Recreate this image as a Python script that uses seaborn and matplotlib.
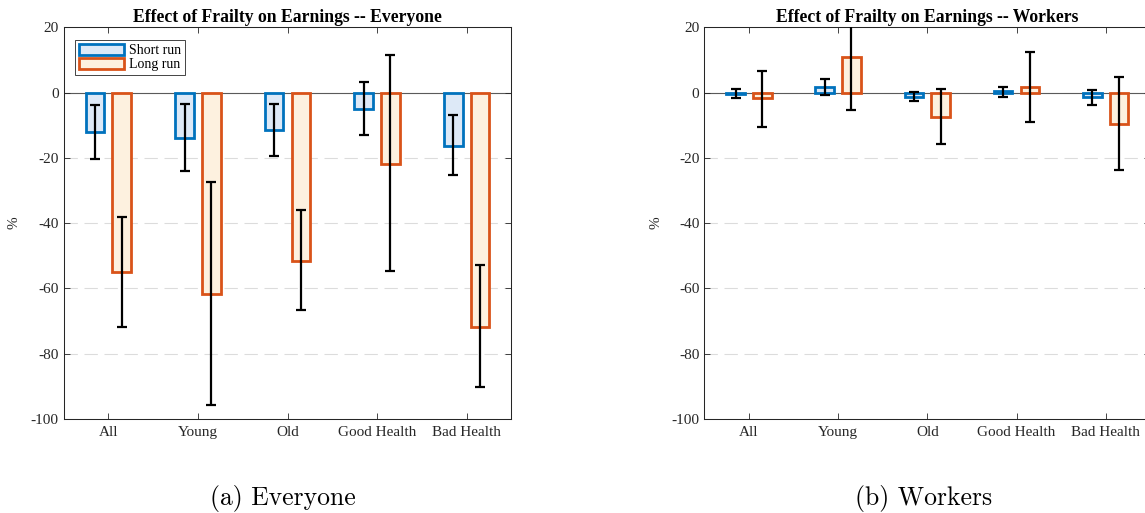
import numpy as np
import pandas as pd
import seaborn as sns
import matplotlib as mpl
import matplotlib.pyplot as plt

mpl.use('Agg')

# ---------------- data ----------------
groups = ['All', 'Young', 'Old', 'Good Health', 'Bad Health']
runs = ['Short run', 'Long run']

every_short    = [-12.1, -13.8, -11.6, -5.0, -16.3]
every_short_lo = [-20.2, -24.1, -19.4, -13.1, -25.4]
every_short_hi = [-3.7, -3.5, -3.6, 3.3, -6.9]
every_long     = [-55.0, -61.8, -51.6, -21.8, -71.7]
every_long_lo  = [-71.9, -95.6, -66.7, -54.8, -90.2]
every_long_hi  = [-38.0, -27.5, -36.1, 11.5, -52.8]

workers_short    = [-0.5, 1.8, -1.4, 0.4, -1.5]
workers_short_lo = [-1.6, -0.8, -2.6, -1.4, -3.7]
workers_short_hi = [1.0, 4.1, 0.2, 1.8, 0.8]
workers_long     = [-1.8, 11.0, -7.5, 1.6, -9.6]
workers_long_lo  = [-10.4, -5.3, -15.8, -9.1, -23.7]
workers_long_hi  = [6.6, 22.0, 1.2, 12.3, 4.8]

yticks = [-100, -80, -60, -40, -20, 0, 20]

# ---------------- style ----------------
plt.rcParams['font.family'] = ['Liberation Serif', 'DejaVu Serif']
plt.rcParams['axes.unicode_minus'] = False
DARK = '#262626'
face_cols = ['#dde9f7', '#fdf1df']
edge_cols = ['#0072bd', '#d95319']


def make_df(short, long_):
    return pd.DataFrame({
        'group': groups * 2,
        'run': [runs[0]] * len(groups) + [runs[1]] * len(groups),
        'value': list(short) + list(long_),
    })


def draw_panel(ax, df, lows, highs, title):
    # 网格 + 基线
    for y in yticks:
        ax.axhline(y, color='#dcdcdc', lw=0.8, ls=(0, (12, 6)), zorder=0)
    ax.axhline(0, color='#5a5a5a', lw=0.8, zorder=1.5)

    sns.barplot(data=df, x='group', y='value', hue='run', order=groups,
                hue_order=runs, palette=face_cols, saturation=1,
                width=0.6, gap=0.3, errorbar=None, linewidth=2,
                legend=False, ax=ax, zorder=2)

    bars = list(ax.containers)  # 先拷贝，errorbar 会往 containers 里加东西
    for i, cont in enumerate(bars):
        for p in cont:
            p.set_edgecolor(edge_cols[i])
            p.set_linewidth(2)
        xs = [p.get_x() + p.get_width() / 2 for p in cont]
        vals = np.asarray(cont.datavalues)
        lo = np.asarray(lows[i])
        hi = np.asarray(highs[i])
        ax.errorbar(xs, vals, yerr=[vals - lo, hi - vals], fmt='none',
                    ecolor='black', elinewidth=1.6, capsize=3.6,
                    capthick=1.6, zorder=4)

    ax.set_xlim(-0.5, len(groups) - 0.5)
    ax.set_ylim(-100, 20)
    ax.set_yticks(yticks)
    ax.set_yticklabels([str(t) for t in yticks])
    ax.set_xlabel('')
    ax.set_ylabel('%', fontsize=11, color=DARK)
    ax.set_title(title, fontsize=12.7, fontweight='bold', pad=4)
    ax.tick_params(direction='in', top=True, right=True, length=4,
                   width=0.6, colors=DARK, labelsize=11)
    ax.tick_params(axis='x', pad=5)
    for s in ax.spines.values():
        s.set_color(DARK)
        s.set_linewidth(0.75)
    return bars


fig = plt.figure(figsize=(11.45, 5.13), dpi=100)
axL = fig.add_axes([63.6 / 1145, 1 - 419 / 513, 447.8 / 1145, 391.7 / 513])
axR = fig.add_axes([704.3 / 1145, 1 - 419 / 513, 446 / 1145, 391.7 / 513])

barsL = draw_panel(axL, make_df(every_short, every_long),
                   [every_short_lo, every_long_lo], [every_short_hi, every_long_hi],
                   'Effect of Frailty on Earnings -- Everyone')
draw_panel(axR, make_df(workers_short, workers_long),
           [workers_short_lo, workers_long_lo], [workers_short_hi, workers_long_hi],
           'Effect of Frailty on Earnings -- Workers')

axL.yaxis.set_label_coords(-(63.6 - 20) / 447.8, 0.5)
axR.yaxis.set_label_coords(-(704.3 - 662.6) / 446, 0.5)

leg = axL.legend(handles=barsL, labels=runs, loc='upper left',
                 bbox_to_anchor=(0.0248, 0.968), fontsize=10, handlelength=3.3,
                 handleheight=0.9, fancybox=False, framealpha=1,
                 edgecolor=DARK, borderpad=0.28, labelspacing=0.03,
                 handletextpad=0.3, borderaxespad=0)
leg.get_frame().set_linewidth(0.6)

fig.text(283 / 1145, 1 - 498 / 513, '(a) Everyone', ha='center', va='center',
         fontfamily='cmr10', fontsize=18.5)
fig.text(924 / 1145, 1 - 498 / 513, '(b) Workers', ha='center', va='center',
         fontfamily='cmr10', fontsize=18.5)

fig.savefig('out.png', dpi=100)
